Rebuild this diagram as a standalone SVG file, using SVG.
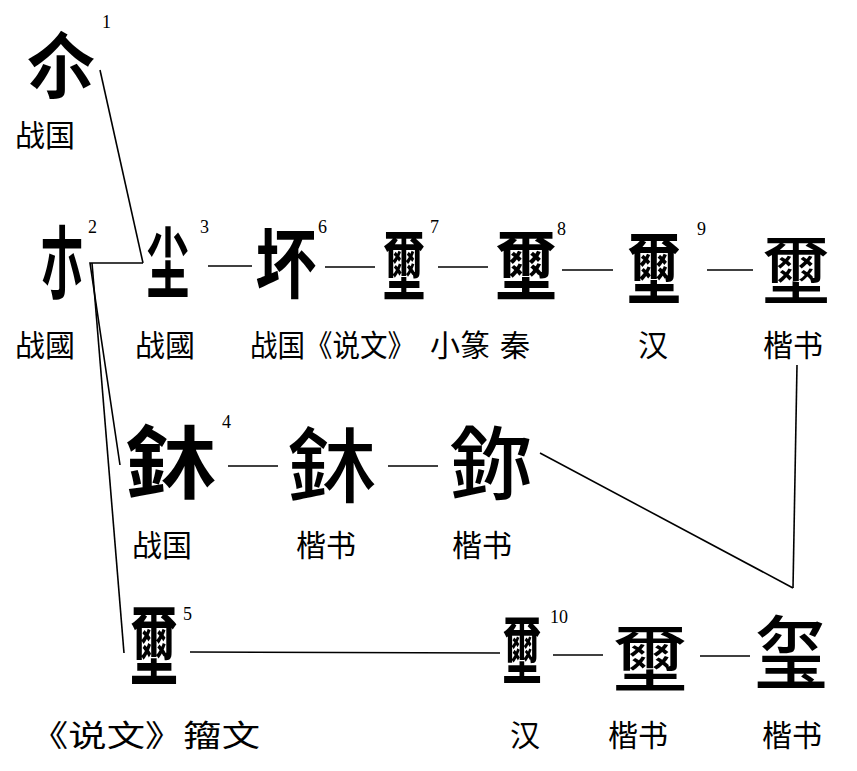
<svg xmlns="http://www.w3.org/2000/svg" width="857" height="771" viewBox="0 0 857 771">
<style>
.g{font-family:"Noto Sans CJK SC","Noto Sans CJK TC",sans-serif;font-weight:700;fill:#000;text-anchor:middle}
.k{font-family:"Noto Sans CJK SC","Noto Sans CJK TC",sans-serif;font-weight:500;fill:#000;text-anchor:middle}
.l{font-family:"Noto Sans CJK SC","Noto Sans CJK TC",sans-serif;font-size:30px;fill:#000}
.n{font-family:"Liberation Serif",serif;font-size:18px;fill:#000}
.c{stroke:#000;stroke-width:1.6;fill:none}
</style>
<rect width="857" height="771" fill="#fff"/>
<g id="connectors">
<line class="c" x1="100" y1="70" x2="143" y2="263"/>
<polyline class="c" points="143,263 90,263 120,465"/>
<line class="c" x1="92" y1="263" x2="124" y2="653"/>
<line class="c" x1="208" y1="266" x2="252" y2="266"/>
<line class="c" x1="325" y1="267" x2="375" y2="267"/>
<line class="c" x1="438" y1="267" x2="488" y2="267"/>
<line class="c" x1="562" y1="270" x2="613" y2="270"/>
<line class="c" x1="707" y1="270" x2="753" y2="270"/>
<line class="c" x1="228" y1="466" x2="278" y2="466"/>
<line class="c" x1="388" y1="466" x2="438" y2="466"/>
<line class="c" x1="190" y1="652" x2="500" y2="653"/>
<line class="c" x1="553" y1="655" x2="603" y2="655"/>
<line class="c" x1="700" y1="656" x2="750" y2="656"/>
<line class="c" x1="540" y1="453" x2="793" y2="588"/>
<line class="c" x1="797" y1="365" x2="793" y2="588"/>
</g>
<g id="n1"><text class="g" font-size="72" transform="translate(61,92) scale(0.95,1)">尒</text><text class="n" x="102" y="28">1</text><text class="l" x="15" y="146">战国</text></g>
<g id="n2"><text class="g" font-size="80" transform="translate(62,292) scale(0.55,1)">朩</text><text class="n" x="88" y="233">2</text><text class="l" x="15" y="356">战國</text></g>
<g id="n3"><text class="g" font-size="78" transform="translate(168,292) scale(0.55,1)">尘</text><text class="n" x="200" y="233">3</text><text class="l" x="135" y="356">战國</text></g>
<g id="n6"><text class="g" font-size="76" transform="translate(286,292) scale(0.8,1)">坏</text><text class="n" x="318" y="233">6</text><text class="l" x="250" y="356" textLength="165" lengthAdjust="spacingAndGlyphs">战国《说文》</text><text class="l" x="430" y="356">小篆</text></g>
<g id="n7"><text class="g" font-size="78" transform="translate(404,295) scale(0.55,1)">壐</text><text class="n" x="430" y="233">7</text></g>
<g id="n8"><text class="g" font-size="78" transform="translate(526,295) scale(0.8,1)">壐</text><text class="n" x="557" y="235">8</text><text class="l" x="500" y="356">秦</text></g>
<g id="n9"><text class="g" font-size="80" transform="translate(654,298) scale(0.68,1)">壐</text><text class="n" x="697" y="235">9</text><text class="l" x="638" y="356">汉</text></g>
<g id="k1"><text class="k" font-size="76" transform="translate(796,299) scale(0.9,1)">壐</text><text class="l" x="763" y="356">楷书</text></g>
<g id="n4"><text class="g" font-size="80" transform="translate(171,492) scale(1.15,1)">鈢</text><text class="n" x="222" y="428">4</text><text class="l" x="132" y="556">战国</text></g>
<g id="k2"><text class="k" font-size="82" transform="translate(332,496) scale(1.1,1)">鈢</text><text class="l" x="296" y="556">楷书</text></g>
<g id="k3"><text class="k" font-size="80" transform="translate(491,493) scale(1.04,1)">鉨</text><text class="l" x="452" y="556">楷书</text></g>
<g id="n5"><text class="g" font-size="88" transform="translate(154,678) scale(0.55,1)">壐</text><text class="n" x="183" y="620">5</text><text class="l" x="30" y="746" textLength="230" lengthAdjust="spacingAndGlyphs">《说文》籀文</text></g>
<g id="n10"><text class="g" font-size="76" transform="translate(522,679) scale(0.52,1)">壐</text><text class="n" x="550" y="623">10</text><text class="l" x="510" y="746">汉</text></g>
<g id="k4"><text class="k" font-size="74" transform="translate(650,686) scale(1.02,1)">壐</text><text class="l" x="608" y="746">楷书</text></g>
<g id="k5"><text class="k" font-size="80" transform="translate(791,682) scale(0.92,1)">玺</text><text class="l" x="762" y="746">楷书</text></g>
</svg>
